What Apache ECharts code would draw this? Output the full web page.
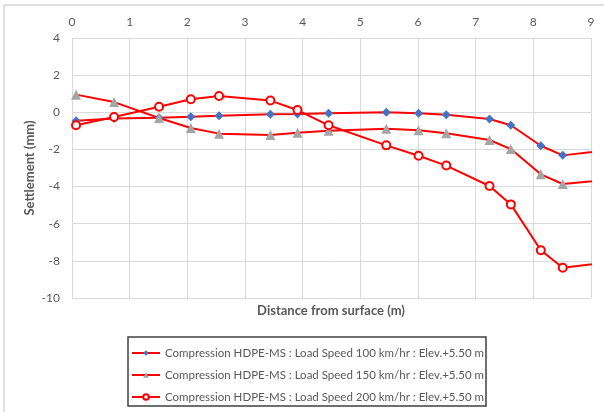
<!DOCTYPE html>
<html>
<head>
<meta charset="utf-8">
<script src="https://cdn.jsdelivr.net/npm/echarts@6/dist/echarts.min.js"></script>
<style>
  html, body { margin: 0; padding: 0; background: #fff; }
  #main { width: 604px; height: 412px; }
</style>
</head>
<body>
<div id="main"></div>
<script>
    var myChart = echarts.init(document.getElementById('main'));

    // distance from surface (m); last point lies past the axis end and is clipped
    var distance = [0.07, 0.73, 1.51, 2.06, 2.55, 3.44, 3.91, 4.45, 5.45, 6.01, 6.49, 7.24, 7.61, 8.13, 8.51, 9.5];

    var seriesNames = [
        'Compression HDPE-MS : Load Speed 100 km/hr : Elev.+5.50 m',
        'Compression HDPE-MS : Load Speed 150 km/hr : Elev.+5.50 m',
        'Compression HDPE-MS : Load Speed 200 km/hr : Elev.+5.50 m'
    ];

    // settlement (mm)
    var speed100 = [-0.45, -0.33, -0.29, -0.24, -0.18, -0.11, -0.09, -0.05, 0.0, -0.05, -0.13, -0.36, -0.7, -1.8, -2.32, -1.97];
    var speed150 = [0.95, 0.55, -0.31, -0.85, -1.15, -1.22, -1.1, -0.99, -0.88, -0.97, -1.13, -1.49, -1.98, -3.34, -3.86, -3.57];
    var speed200 = [-0.7, -0.25, 0.3, 0.7, 0.88, 0.63, 0.12, -0.7, -1.78, -2.34, -2.87, -3.97, -4.96, -7.43, -8.37, -8.0];

    function pairs(ys) {
        return distance.map(function (x, i) {
            return [x, ys[i]];
        });
    }

    var labelColor = '#595959';
    var gridColor = '#d9d9d9';
    var font = 'Lato';

    option = {
        animation: false,
        backgroundColor: '#fff',
        grid: {
            left: 72,
            top: 38,
            right: 13,
            bottom: 114
        },
        graphic: [
            // outer chart frame (top + left edges)
            { type: 'line', shape: { x1: 4, y1: 5, x2: 604, y2: 5 }, style: { stroke: '#bfbfbf', lineWidth: 1 } },
            { type: 'line', shape: { x1: 4, y1: 5, x2: 4, y2: 412 }, style: { stroke: '#bfbfbf', lineWidth: 1 } },
            // white mask: legend text is cut off at the frame's right edge
            { type: 'rect', z: 100, shape: { x: 487, y: 338, width: 117, height: 68 }, style: { fill: '#fff' } },
            // legend frame
            { type: 'rect', z: 101, shape: { x: 128, y: 337, width: 358, height: 69 }, style: { fill: null, stroke: '#404040', lineWidth: 1.5 } },
            // x axis title sits under the plot
            {
                type: 'text', x: 331, y: 311,
                style: { text: 'Distance from surface (m)', fill: labelColor, font: 'bold 13px Lato', align: 'center', verticalAlign: 'middle' }
            }
        ],
        legend: {
            left: 126,
            top: 342,
            orient: 'vertical',
            itemWidth: 28,
            itemHeight: 7,
            itemGap: 10,
            data: seriesNames,
            textStyle: {
                color: labelColor,
                fontFamily: font,
                fontSize: 11.5
            }
        },
        xAxis: {
            type: 'value',
            position: 'top',
            min: 0,
            max: 9,
            interval: 1,
            axisLine: { show: false },
            axisTick: { show: false },
            axisLabel: { color: labelColor, fontFamily: font, fontSize: 12, margin: 10 },
            splitLine: { lineStyle: { color: gridColor, width: 1 } }
        },
        yAxis: {
            type: 'value',
            min: -10,
            max: 4,
            interval: 2,
            name: 'Settlement (mm)',
            nameLocation: 'middle',
            nameGap: 36,
            nameMoveOverlap: false,
            nameTextStyle: { color: labelColor, fontFamily: font, fontSize: 13, fontWeight: 'bold' },
            axisLine: { show: false },
            axisTick: { show: false },
            axisLabel: { color: labelColor, fontFamily: font, fontSize: 12, margin: 12 },
            splitLine: { lineStyle: { color: gridColor, width: 1 } }
        },
        series: [{
            name: seriesNames[0],
            type: 'line',
            data: pairs(speed100),
            clip: true,
            symbol: 'diamond',
            symbolSize: 9,
            lineStyle: { color: '#ff0000', width: 2 },
            itemStyle: { color: '#4472c4', borderWidth: 0 }
        }, {
            name: seriesNames[1],
            type: 'line',
            data: pairs(speed150),
            clip: true,
            symbol: 'triangle',
            symbolSize: 10,
            lineStyle: { color: '#ff0000', width: 2 },
            itemStyle: { color: '#a5a5a5', borderWidth: 0 }
        }, {
            name: seriesNames[2],
            type: 'line',
            data: pairs(speed200),
            clip: true,
            symbol: 'emptyCircle',
            symbolSize: 8,
            lineStyle: { color: '#ff0000', width: 2 },
            itemStyle: { color: '#ff0000', borderColor: '#ff0000', borderWidth: 2 }
        }]
    };

    myChart.setOption(option);
</script>
</body>
</html>
